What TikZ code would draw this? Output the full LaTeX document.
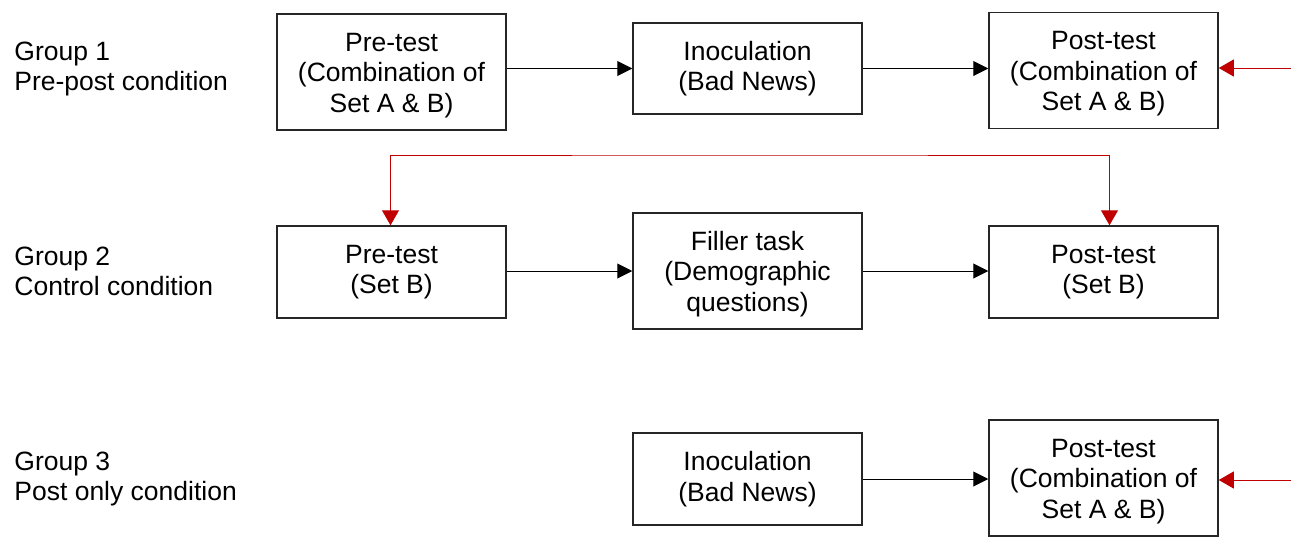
\documentclass[tikz,border=0pt]{standalone}
\usepackage{fontspec}
\setmainfont{Liberation Sans}
\usetikzlibrary{arrows.meta,calc}
\definecolor{darkred}{HTML}{C00000}
\newcommand\fstrut{\rule{0pt}{12.6pt}}
\begin{document}
\begin{tikzpicture}[x=0.5pt,y=-0.5pt,
  every node/.style={font=\fontsize{13.25pt}{15.25pt}\selectfont},
  box/.style={draw=black!85,line width=0.75pt,minimum width=114.5pt,inner sep=0pt,align=center},
  tallbox/.style={box,minimum height=58pt},
  shortbox/.style={box,minimum height=46pt},
  grp/.style={anchor=west,align=left,inner sep=0pt},
  flow/.style={line width=0.5pt,-{Triangle[length=7.5pt,width=7.5pt]}},
  redflow/.style={draw=darkred,line width=0.5pt,-{Triangle[length=7.5pt,width=8.5pt]},darkred}
]
\useasboundingbox (0,0) rectangle (1291,536);

% group labels
\node[grp] (g1) at (14,69) {Group 1\\Pre-post condition};
\node[grp] (g2) at (14,271.5) {Group 2\\Control condition};
\node[grp] (g3) at (14,479) {Group 3\\Post only condition};

% row 1
\node[tallbox] (A1) at (391.5,72) {\fstrut Pre-test\\(Combination of\\Set A \& B)};
\node[box,minimum height=45.5pt] (B1) at (747.5,68.5) {Inoculation\\(Bad News)};
\node[tallbox] (C1) at (1103.5,70.5) {\fstrut Post-test\\(Combination of\\Set A \& B)};

% row 2
\node[shortbox] (A2) at (391.5,272) {Pre-test\\(Set B)};
\node[tallbox] (B2) at (747.5,271) {\fstrut Filler task\\(Demographic\\questions)};
\node[shortbox] (C2) at (1103.5,272) {Post-test\\(Set B)};

% row 3
\node[shortbox] (B3) at (747.5,479) {Inoculation\\(Bad News)};
\node[tallbox] (C3) at (1103.5,478) {\fstrut Post-test\\(Combination of\\Set A \& B)};

% black arrows
\draw[flow] (A1.east |- B1.west) -- (B1.west);
\draw[flow] (B1.east) -- (C1.west |- B1.east);
\draw[flow] (A2.east |- B2.west) -- (B2.west);
\draw[flow] (B2.east) -- (C2.west |- B2.east);
\draw[flow] (B3.east) -- (C3.west |- B3.east);

% red arrows from the right edge
\coordinate (r1) at (1291,68);
\coordinate (r3) at (1291,480);
\draw[redflow] (r1) -- (C1.east |- r1);
\draw[redflow] (r3) -- (C3.east |- r3);

% red bracket
\coordinate (top) at (750,155);
\coordinate (lft) at ($(A2.north)+(-1,0)$);
\coordinate (rgt) at ($(C2.north)+(6,0)$);
\draw[redflow,{Triangle[length=7.5pt,width=8.5pt]}-{Triangle[length=7.5pt,width=8.5pt]}] (lft) |- (top) -| (rgt);
\end{tikzpicture}
\end{document}
